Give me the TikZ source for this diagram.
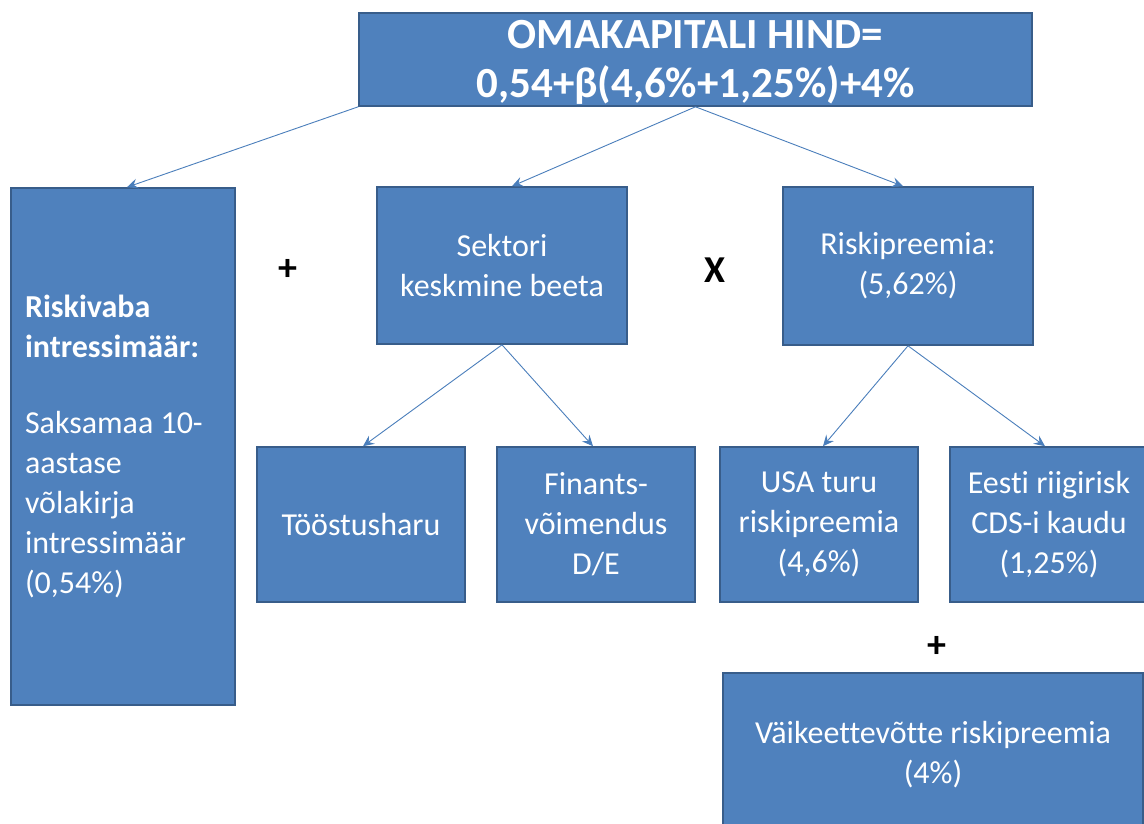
\documentclass[tikz,border=0pt]{standalone}
\usepackage{fontspec}
\setmainfont{Carlito}[Ligatures=NoCommon]
\usetikzlibrary{arrows.meta}
\definecolor{boxfill}{HTML}{4F81BD}
\definecolor{boxline}{HTML}{385D8A}
\definecolor{linkline}{HTML}{4A7EBB}
\begin{document}
\begin{tikzpicture}[x=1pt,y=-1pt,
  card/.style={draw=boxline, line width=1.6pt, fill=boxfill, text=white,
    inner sep=0pt, align=center, font=\fontsize{32}{40}\selectfont},
  link/.style={draw=linkline, line width=0.9pt,
    -{Stealth[length=11pt,width=10pt,inset=4pt]}},
  op/.style={font=\bfseries\fontsize{38}{40}\selectfont, text=black, inner sep=0pt}]
\useasboundingbox (0,0) rectangle (1144,823);
\clip (0,0) rectangle (1144,823);

% formula at the top
\node[card, minimum width=673pt, minimum height=93pt,
  font=\bfseries\fontsize{43}{49}\selectfont] (top) at (695.5,59.5) {};
\node[text=white, font=\bfseries\fontsize{43}{49}\selectfont, align=center,
  inner sep=0pt] (toptext) at (695.5,62)
  {OMAKAPITALI HIND=\\0,54+β(4,6\%+1,25\%)+4\%};

% second level
\node[card, minimum width=224pt, minimum height=517pt, text width=196pt,
  align=flush left] (rf) at (123,446.5)
  {\textbf{Riskivaba}\\\textbf{intressimäär:}\\[36pt]Saksamaa 10-\\aastase\\võlakirja\\intressimäär\\(0,54\%)};
\node[card, minimum width=250pt, minimum height=157pt] (sek) at (502,265.5)
  {Sektori\\keskmine beeta};
\node[card, minimum width=250pt, minimum height=158pt] (rp) at (908,266)
  {Riskipreemia:\\(5,62\%)};

% third level
\node[card, minimum width=208pt, minimum height=155pt] (ind) at (361,524.5)
  {Tööstusharu};
\node[card, minimum width=198pt, minimum height=155pt] (fin) at (596,524.5)
  {Finants-\\võimendus\\D/E};
\node[card, minimum width=198pt, minimum height=155pt] (usa) at (819,524.5)
  {USA turu\\riskipreemia\\(4,6\%)};
\node[card, minimum width=198pt, minimum height=155pt] (est) at (1049,524.5)
  {Eesti riigirisk\\CDS-i kaudu\\(1,25\%)};

% small company premium
\node[card, minimum width=420pt, minimum height=164pt] (sm) at (933,755)
  {Väikeettevõtte riskipreemia\\(4\%)};

% operators
\node[op] (plusA) at (288,270) {+};
\node[op] (times) at (715,270) {X};
\node[op] (plusB) at (937,647) {+};

% connectors
\draw[link] (top.south west) -- ([xshift=4pt]rf.north);
\draw[link] (top.south) -- ([xshift=10pt]sek.north);
\draw[link] (top.south) -- ([xshift=-5pt]rp.north);
\draw[link] (sek.south) -- ([xshift=2pt]ind.north);
\draw[link] (sek.south) -- ([xshift=-3pt]fin.north);
\draw[link] (rp.south) -- ([xshift=4pt]usa.north);
\draw[link] (rp.south) -- ([xshift=-4pt]est.north);
\end{tikzpicture}
\end{document}
